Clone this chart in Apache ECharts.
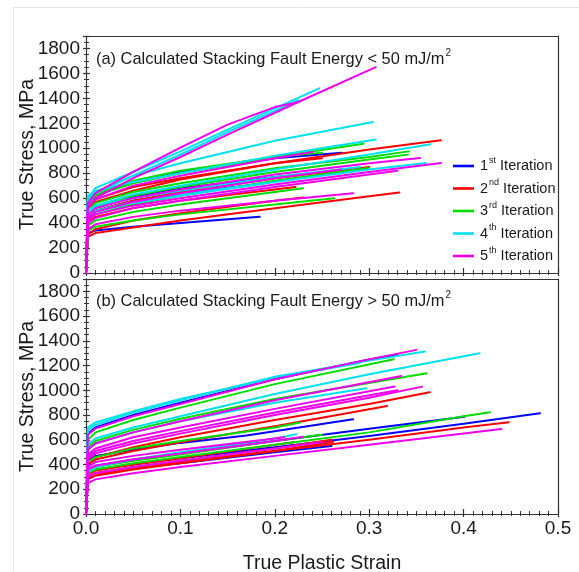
<!DOCTYPE html>
<html><head><meta charset="utf-8">
<script src="https://cdn.jsdelivr.net/npm/echarts@6/dist/echarts.min.js"></script>
<style>html,body{margin:0;padding:0;background:#fff}#c{width:579px;height:572px}</style>
</head><body><div id="c"></div>
<script>
// ---------- data ----------
const iterNames = ['1st Iteration', '2nd Iteration', '3rd Iteration', '4th Iteration', '5th Iteration'];
const iterColors = ['#0000ff', '#ff0000', '#00dd00', '#00e1ee', '#f000f0'];
const panelTitles = ['(a) Calculated Stacking Fault Energy < 50 mJ/m{s|2}', '(b) Calculated Stacking Fault Energy > 50 mJ/m{s|2}'];
const xTickLabels = ['0.0', '0.1', '0.2', '0.3', '0.4', '0.5'];
const yTickLabels = [0, 200, 400, 600, 800, 1000, 1200, 1400, 1600, 1800];

// Panel (a): SFE < 50 mJ/m2 -- each curve: [true plastic strain, true stress MPa]
const topIter1 = [
  [[0,0],[0.002,560],[0.01,620],[0.05,730],[0.1,810],[0.2,920],[0.271,965]],
  [[0,0],[0.002,320],[0.01,340],[0.05,370],[0.1,400],[0.184,450]],
  [[0,0],[0.002,480],[0.01,520],[0.05,610],[0.1,680],[0.2,770],[0.24,800]],
  [[0,0],[0.002,460],[0.01,500],[0.05,580],[0.1,640],[0.17,700]]
];
const topIter2 = [
  [[0,0],[0.002,290],[0.01,320],[0.05,365],[0.1,420],[0.2,520],[0.3,615],[0.332,645]],
  [[0,0],[0.002,520],[0.01,570],[0.05,660],[0.1,750],[0.2,880],[0.3,990],[0.376,1064]],
  [[0,0],[0.002,410],[0.01,450],[0.05,520],[0.1,580],[0.222,690]],
  [[0,0],[0.002,540],[0.01,590],[0.05,690],[0.1,760],[0.2,880],[0.25,920]],
  [[0,0],[0.002,310],[0.01,350],[0.05,420],[0.1,480],[0.2,580],[0.23,605]],
  [[0,0],[0.002,450],[0.01,500],[0.05,580],[0.1,650],[0.2,760],[0.3,850]]
];
const topIter3 = [
  [[0,0],[0.002,560],[0.01,620],[0.05,720],[0.1,800],[0.2,930],[0.294,1037]],
  [[0,0],[0.002,500],[0.01,560],[0.05,650],[0.1,720],[0.2,840],[0.3,930],[0.342,975]],
  [[0,0],[0.002,470],[0.01,530],[0.05,620],[0.1,690],[0.2,810],[0.3,910],[0.341,949]],
  [[0,0],[0.002,420],[0.01,470],[0.05,550],[0.1,620],[0.2,740],[0.299,841]],
  [[0,0],[0.002,340],[0.01,370],[0.05,420],[0.1,470],[0.2,550],[0.263,600]],
  [[0,0],[0.002,580],[0.01,640],[0.05,740],[0.1,820],[0.2,930],[0.25,965]],
  [[0,0],[0.002,380],[0.01,420],[0.05,490],[0.1,550],[0.2,650],[0.23,680]]
];
const topIter4 = [
  [[0,0],[0.002,600],[0.01,680],[0.05,810],[0.1,975],[0.15,1150],[0.2,1320],[0.247,1480]],
  [[0,0],[0.002,580],[0.01,650],[0.05,780],[0.1,950],[0.15,1130],[0.2,1300],[0.225,1385]],
  [[0,0],[0.002,560],[0.01,640],[0.05,780],[0.1,880],[0.2,1060],[0.304,1210]],
  [[0,0],[0.002,620],[0.01,660],[0.05,730],[0.1,800],[0.2,940],[0.307,1070]],
  [[0,0],[0.002,480],[0.01,540],[0.05,630],[0.1,700],[0.2,830],[0.3,950],[0.365,1032]],
  [[0,0],[0.002,440],[0.01,490],[0.05,560],[0.1,620],[0.2,730],[0.3,830],[0.36,882]],
  [[0,0],[0.002,500],[0.01,540],[0.05,600],[0.1,660],[0.2,770],[0.29,850]],
  [[0,0],[0.002,450],[0.01,500],[0.05,570],[0.1,630],[0.19,720]]
];
const topIter5 = [
  [[0,0],[0.002,560],[0.01,640],[0.05,810],[0.1,1005],[0.15,1190],[0.2,1330],[0.226,1372]],
  [[0,0],[0.002,520],[0.01,600],[0.05,760],[0.1,930],[0.15,1110],[0.226,1375],[0.307,1650]],
  [[0,0],[0.002,530],[0.01,590],[0.05,700],[0.1,780],[0.2,920],[0.24,970]],
  [[0,0],[0.002,460],[0.01,520],[0.05,600],[0.1,670],[0.2,790],[0.3,880],[0.354,922]],
  [[0,0],[0.002,420],[0.01,470],[0.05,540],[0.1,600],[0.2,710],[0.3,810],[0.376,882]],
  [[0,0],[0.002,350],[0.01,390],[0.05,450],[0.1,500],[0.2,580],[0.283,640]],
  [[0,0],[0.002,400],[0.01,440],[0.05,520],[0.1,580],[0.2,690],[0.3,790],[0.33,820]],
  [[0,0],[0.002,440],[0.01,490],[0.05,570],[0.1,640],[0.2,760],[0.27,830]]
];

// Panel (b): SFE > 50 mJ/m2
const botIter1 = [
  [[0,0],[0.002,650],[0.01,700],[0.05,800],[0.1,900],[0.2,1090],[0.3,1250],[0.33,1290]],
  [[0,0],[0.002,430],[0.01,470],[0.05,520],[0.1,575],[0.17,635],[0.283,766]],
  [[0,0],[0.002,330],[0.01,360],[0.05,400],[0.1,450],[0.2,540],[0.3,630],[0.4,730],[0.481,815]],
  [[0,0],[0.002,360],[0.01,390],[0.05,440],[0.1,490],[0.2,590],[0.3,690],[0.401,787]],
  [[0,0],[0.002,300],[0.01,330],[0.05,370],[0.1,410],[0.2,500],[0.26,550]]
];
const botIter2 = [
  [[0,0],[0.002,420],[0.01,460],[0.05,540],[0.1,620],[0.2,760],[0.3,890],[0.364,984]],
  [[0,0],[0.002,400],[0.01,440],[0.05,510],[0.1,580],[0.2,710],[0.319,874]],
  [[0,0],[0.002,290],[0.01,320],[0.05,370],[0.1,420],[0.2,510],[0.3,600],[0.4,700],[0.448,742]],
  [[0,0],[0.002,280],[0.01,310],[0.05,360],[0.1,410],[0.2,510],[0.262,585]],
  [[0,0],[0.002,300],[0.01,330],[0.05,380],[0.1,430],[0.2,530],[0.26,600]],
  [[0,0],[0.002,320],[0.01,350],[0.05,400],[0.1,450],[0.2,560],[0.22,580]]
];
const botIter3 = [
  [[0,0],[0.002,600],[0.01,660],[0.05,760],[0.1,860],[0.2,1050],[0.326,1251]],
  [[0,0],[0.002,540],[0.01,590],[0.05,680],[0.1,770],[0.2,930],[0.3,1060],[0.361,1138]],
  [[0,0],[0.002,330],[0.01,360],[0.05,410],[0.1,460],[0.2,560],[0.3,660],[0.4,790],[0.428,823]],
  [[0,0],[0.002,420],[0.01,460],[0.05,530],[0.1,590],[0.2,700],[0.227,739]],
  [[0,0],[0.002,350],[0.01,380],[0.05,430],[0.1,480],[0.2,590],[0.25,640]]
];
const botIter4 = [
  [[0,0],[0.002,680],[0.01,720],[0.05,820],[0.1,920],[0.2,1110],[0.3,1240],[0.359,1313]],
  [[0,0],[0.002,560],[0.01,610],[0.05,700],[0.1,790],[0.2,970],[0.3,1130],[0.417,1300]],
  [[0,0],[0.002,520],[0.01,570],[0.05,660],[0.1,750],[0.2,900],[0.297,1017]],
  [[0,0],[0.002,340],[0.01,380],[0.05,440],[0.1,500],[0.2,610],[0.223,645]],
  [[0,0],[0.002,700],[0.01,740],[0.05,830],[0.1,930],[0.2,1100],[0.29,1220]]
];
const botIter5 = [
  [[0,0],[0.002,640],[0.01,690],[0.05,790],[0.1,890],[0.2,1090],[0.3,1250],[0.35,1327]],
  [[0,0],[0.002,520],[0.01,570],[0.05,660],[0.1,750],[0.2,920],[0.334,1116]],
  [[0,0],[0.002,480],[0.01,530],[0.05,620],[0.1,700],[0.2,850],[0.327,1030]],
  [[0,0],[0.002,440],[0.01,490],[0.05,570],[0.1,650],[0.2,800],[0.3,940],[0.356,1030]],
  [[0,0],[0.002,250],[0.01,280],[0.05,330],[0.1,380],[0.2,470],[0.3,560],[0.4,650],[0.44,688]],
  [[0,0],[0.002,360],[0.01,390],[0.05,440],[0.1,490],[0.2,590],[0.23,625]],
  [[0,0],[0.002,380],[0.01,420],[0.05,470],[0.1,520],[0.2,610],[0.21,620]],
  [[0,0],[0.002,300],[0.01,330],[0.05,380],[0.1,430],[0.2,530],[0.25,580]],
  [[0,0],[0.002,460],[0.01,510],[0.05,590],[0.1,670],[0.2,820],[0.3,960],[0.33,1000]]
];

// ---------- chart ----------
const FONT = "'Liberation Sans', Arial, sans-serif";
const TXT = '#1a1a1a';
const AX = '#333333';
const panels = [
  [topIter1, topIter2, topIter3, topIter4, topIter5],
  [botIter1, botIter2, botIter3, botIter4, botIter5]
];
const grids = [
  {left: 86, top: 36, width: 472, height: 237, containLabel: false, outerBoundsMode: 'none'},
  {left: 86, top: 279, width: 472, height: 235, containLabel: false, outerBoundsMode: 'none'}
];

const xAxes = [], yAxes = [];
grids.forEach((g, p) => {
  const isBottom = p === 1;
  xAxes.push({
    type: 'value', gridIndex: p, min: 0, max: 0.5, interval: 0.1, position: 'bottom',
    axisLine: {show: true, lineStyle: {color: AX, width: 1.2}},
    axisTick: {show: true, inside: false, length: 3, lineStyle: {color: AX, width: 1.2}},
    minorTick: {show: true, splitNumber: 10, length: 2, lineStyle: {color: AX, width: 1}},
    splitLine: {show: false},
    axisLabel: {show: isBottom, margin: 5, fontSize: 19, color: TXT, fontFamily: FONT,
      formatter: v => xTickLabels[Math.round(v * 10)] || ''},
    name: isBottom ? 'True Plastic Strain' : '', nameLocation: 'middle', nameGap: 40,
    nameMoveOverlap: false,
    nameTextStyle: {fontSize: 19.5, color: TXT, fontFamily: FONT}
  });
  xAxes.push({
    type: 'value', gridIndex: p, min: 0, max: 0.5, interval: 0.1, position: 'bottom',
    axisLine: {show: false},
    axisTick: {show: true, inside: true, length: 5, lineStyle: {color: AX, width: 1.2}},
    minorTick: {show: true, splitNumber: 10, length: 3, lineStyle: {color: AX, width: 1}},
    splitLine: {show: false}, axisLabel: {show: false}
  });
  xAxes.push({
    type: 'value', gridIndex: p, min: 0, max: 0.5, position: 'top',
    axisLine: {show: true, onZero: false, lineStyle: {color: AX, width: 1.2}},
    axisTick: {show: false}, splitLine: {show: false}, axisLabel: {show: false}
  });
  yAxes.push({
    type: 'value', gridIndex: p, min: 0, max: 1900, interval: 200, position: 'left',
    axisLine: {show: true, lineStyle: {color: AX, width: 1.2}},
    axisTick: {show: true, inside: false, length: 3, lineStyle: {color: AX, width: 1.2}},
    minorTick: {show: true, splitNumber: 4, length: 2, lineStyle: {color: AX, width: 1}},
    splitLine: {show: false},
    axisLabel: {show: true, margin: 6, fontSize: 19, color: TXT, fontFamily: FONT,
      formatter: v => (yTickLabels.indexOf(v) >= 0 ? String(v) : '')},
    name: 'True Stress, MPa', nameLocation: 'middle', nameGap: 48,
    nameMoveOverlap: false,
    nameTextStyle: {fontSize: 19.5, color: TXT, fontFamily: FONT}
  });
  yAxes.push({
    type: 'value', gridIndex: p, min: 0, max: 1900, interval: 200, position: 'left',
    axisLine: {show: false},
    axisTick: {show: true, inside: true, length: 4, lineStyle: {color: AX, width: 1.2}},
    minorTick: {show: true, splitNumber: 4, length: 3, lineStyle: {color: AX, width: 1}},
    splitLine: {show: false}, axisLabel: {show: false}
  });
  yAxes.push({
    type: 'value', gridIndex: p, min: 0, max: 1900, position: 'right',
    axisLine: {show: true, onZero: false, lineStyle: {color: AX, width: 1.2}},
    axisTick: {show: false}, splitLine: {show: false}, axisLabel: {show: false}
  });
});

const series = [];
panels.forEach((iters, p) => {
  iters.forEach((curves, k) => {
    curves.forEach(curve => {
      series.push({
        type: 'line', name: iterNames[k], xAxisIndex: p * 3, yAxisIndex: p * 3,
        data: curve, showSymbol: false, symbol: 'none', smooth: false,
        lineStyle: {width: 2, color: iterColors[k], join: 'round', cap: 'round'},
        itemStyle: {color: iterColors[k]},
        emphasis: {disabled: true}, animation: false, z: 2 + k
      });
    });
  });
});

const supRich = {
  n: {fontSize: 14.5, color: TXT, fontFamily: FONT},
  s: {fontSize: 9, color: TXT, fontFamily: FONT, padding: [0, 0, 11, 1]}
};

const option = {
  animation: false,
  backgroundColor: '#ffffff',
  grid: grids,
  xAxis: xAxes,
  yAxis: yAxes,
  title: panelTitles.map((t, i) => ({
    text: '{n|' + t.replace('{s|2}', '}{s|2}'),
    left: 96, top: i === 0 ? 48 : 290, padding: 0,
    textStyle: {fontWeight: 'normal', rich: {
      n: {fontSize: 16.4, fontWeight: 'normal', color: TXT, fontFamily: FONT},
      s: {fontSize: 10, fontWeight: 'normal', color: TXT, fontFamily: FONT, padding: [0, 0, 12, 1]}
    }}
  })),
  legend: {
    orient: 'vertical', left: 453, top: 156, itemGap: 5, itemWidth: 21, itemHeight: 2.6,
    icon: 'rect', padding: 0, selectedMode: false,
    data: iterNames.map((n, i) => ({name: n, itemStyle: {color: iterColors[i]}})),
    formatter: name => name.replace(/^(\d)(st|nd|rd|th) (.*)$/, '{n|$1}{s|$2}{n| $3}'),
    textStyle: {rich: supRich, padding: [0, 0, 0, 1]}
  },
  graphic: [{
    type: 'rect', silent: true, z: -1,
    shape: {x: 13.5, y: 7.5, width: 620, height: 620},
    style: {fill: 'none', stroke: '#e4e4e4', lineWidth: 1}
  }],
  series: series
};

const chart = echarts.init(document.getElementById('c'), null, {renderer: 'canvas'});
chart.setOption(option);
</script>
</body></html>
